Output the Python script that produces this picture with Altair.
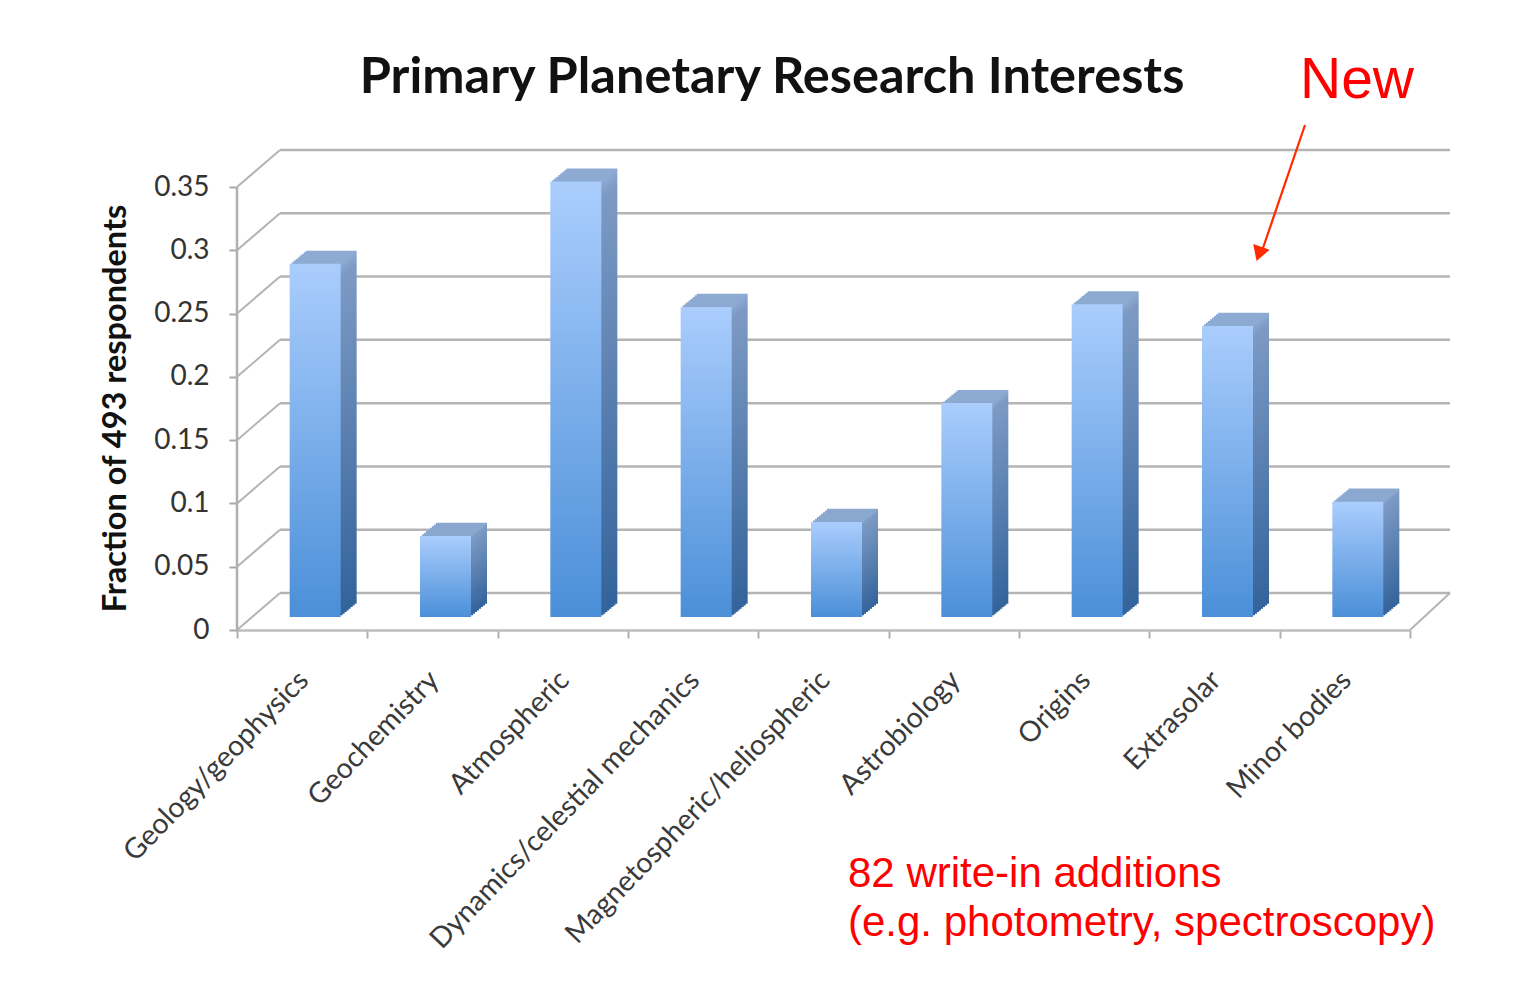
import altair as alt
import pandas as pd

# ---- data ----
categories = [
    "Geology/geophysics",
    "Geochemistry",
    "Atmospheric",
    "Dynamics/celestial mechanics",
    "Magnetospheric/heliospheric",
    "Astrobiology",
    "Origins",
    "Extrasolar",
    "Minor bodies",
]
values = [0.279, 0.064, 0.344, 0.245, 0.075, 0.169, 0.247, 0.230, 0.091]
y_ticks = [0, 0.05, 0.1, 0.15, 0.2, 0.25, 0.3, 0.35]

title_text = "Primary Planetary Research Interests"
y_title = "Fraction of 493 respondents"
new_text = "New"
note_lines = ["82 write-in additions", "(e.g. photometry, spectroscopy)"]

# ---- layout ----
W, H = 1173, 443
FRONT = 13      # front edge of the floor, below the bar baseline
BACK = -24      # back wall, above the bar baseline
DEPTH_X = 43    # horizontal shift of the back wall

bars = pd.DataFrame({"category": categories, "fraction": values})
ticks = pd.DataFrame({"tick": y_ticks})

y_scale = alt.Scale(domain=[0, 0.35], nice=False)
x_scale = alt.Scale(domain=categories, paddingInner=0, paddingOuter=0)

grid_color = "#b4b4b4"

y_axis = alt.Axis(
    values=y_ticks,
    format="~g",
    tickOffset=FRONT,
    domain=False,
    grid=False,
    tickSize=8,
    tickColor="#a8a8a8",
    tickWidth=2,
    labelFont="Lato",
    labelFontSize=28,
    labelColor="#333333",
    labelPadding=20,
    title=y_title,
    titleFont="Lato",
    titleFontSize=32.5,
    titleFontWeight="bold",
    titleColor="#111111",
    titleX=-122,
    titleY=234,
    titleAngle=-90,
    titleAlign="center",
    titleBaseline="middle",
)

# back-wall gridlines (carries the y axis)
back_grid = alt.Chart(ticks).mark_rule(color=grid_color, strokeWidth=2.5, yOffset=BACK).encode(
    y=alt.Y("tick:Q", scale=y_scale, axis=y_axis),
    x=alt.value(DEPTH_X),
    x2=alt.value(W + 40),
)

# side-wall diagonals
side_grid = alt.Chart(ticks).mark_rule(color=grid_color, strokeWidth=2, yOffset=FRONT, y2Offset=BACK).encode(
    y=alt.Y("tick:Q", scale=y_scale, title=y_title),
    y2="tick:Q",
    x=alt.value(0),
    x2=alt.value(DEPTH_X),
)

# front vertical axis line
front_axis = alt.Chart(ticks).mark_rule(color="#b0b0b0", strokeWidth=2.5, yOffset=FRONT, y2Offset=FRONT).encode(
    y=alt.Y("min(tick):Q", scale=y_scale, title=y_title),
    y2="max(tick):Q",
    x=alt.value(0),
)

# right floor diagonal
floor_edge = alt.Chart(ticks).mark_rule(color=grid_color, strokeWidth=2, yOffset=FRONT, y2Offset=BACK).encode(
    y=alt.Y("min(tick):Q", scale=y_scale, title=y_title),
    y2="min(tick):Q",
    x=alt.value(W),
    x2=alt.value(W + 40),
)

side_gradient = {
    "gradient": "linear", "x1": 0, "x2": 0, "y1": 0, "y2": 1,
    "stops": [
        {"offset": 0, "color": "#8eabd3"},
        {"offset": 0.04, "color": "#7d9ac4"},
        {"offset": 1, "color": "#33639b"},
    ],
}
front_gradient = {
    "gradient": "linear", "x1": 0, "x2": 0, "y1": 0, "y2": 1,
    "stops": [
        {"offset": 0, "color": "#aacdfd"},
        {"offset": 1, "color": "#4b8fd8"},
    ],
}

BAR_W = 51
BAR_SHIFT = 13
STEPS = 8

x_axis = alt.Axis(
    title=None,
    labelAngle=-46,
    labelAlign="right",
    labelBaseline="middle",
    labelFont="Lato",
    labelFontSize=28.5,
    labelColor="#3a3a3a",
    labelPadding=37,
    labelOffset=1,
    labelLimit=0,
    offset=FRONT,
    tickBand="extent",
    tickSize=8,
    tickColor="#b0b0b0",
    tickWidth=2,
    domainColor="#bdbdbd",
    domainWidth=2.5,
)

extrusions = []
for k in range(STEPS, 0, -1):
    extrusions.append(
        alt.Chart(bars).mark_bar(
            width=BAR_W,
            color=side_gradient,
            xOffset=BAR_SHIFT + 2 * k,
            yOffset=-1.65 * k,
            y2Offset=-1.65 * k,
        ).encode(
            x=alt.X("category:N", scale=x_scale, axis=x_axis),
            y=alt.Y("fraction:Q", scale=y_scale, title=y_title),
        )
    )

front = alt.Chart(bars).mark_bar(
    width=BAR_W, color=front_gradient, xOffset=BAR_SHIFT
).encode(
    x=alt.X("category:N", scale=x_scale, axis=x_axis),
    y=alt.Y("fraction:Q", scale=y_scale, title=y_title),
)

one = pd.DataFrame({"a": [0]})

title = alt.Chart(one).mark_text(
    text=title_text, font="Lato", fontSize=50.5, fontWeight="bold", color="#111111",
    align="center", baseline="alphabetic",
).encode(x=alt.value(535), y=alt.value(-81))

new_label = alt.Chart(one).mark_text(
    text=new_text, font="Liberation Sans", fontSize=57, color="#ff0000",
    align="left", baseline="alphabetic",
).encode(x=alt.value(1063), y=alt.value(-76))

arrow_line = alt.Chart(one).mark_rule(color="#ff2a00", strokeWidth=2.2).encode(
    x=alt.value(1068), x2=alt.value(1026), y=alt.value(-49), y2=alt.value(74),
)
arrow_head = alt.Chart(one).mark_point(
    shape="triangle-down", filled=True, color="#ff2a00", size=300, angle=19, opacity=1
).encode(x=alt.value(1022), y=alt.value(80))

note1 = alt.Chart(one).mark_text(
    text=note_lines[0], font="Liberation Sans", fontSize=42, color="#ff0000",
    align="left", baseline="alphabetic",
).encode(x=alt.value(611), y=alt.value(713))
note2 = alt.Chart(one).mark_text(
    text=note_lines[1], font="Liberation Sans", fontSize=42, color="#ff0000",
    align="left", baseline="alphabetic",
).encode(x=alt.value(611), y=alt.value(762))

chart = alt.layer(
    back_grid, side_grid, front_axis, floor_edge, *extrusions, front,
    title, new_label, arrow_line, arrow_head, note1, note2,
).properties(
    width=W,
    height=H,
    padding={"left": 229, "top": 166, "right": 104, "bottom": 360},
    autosize=alt.AutoSizeParams(type="none"),
    background="white",
).configure_view(stroke=None)

chart.save("out.html", embed_options={"renderer": "svg", "actions": False})
